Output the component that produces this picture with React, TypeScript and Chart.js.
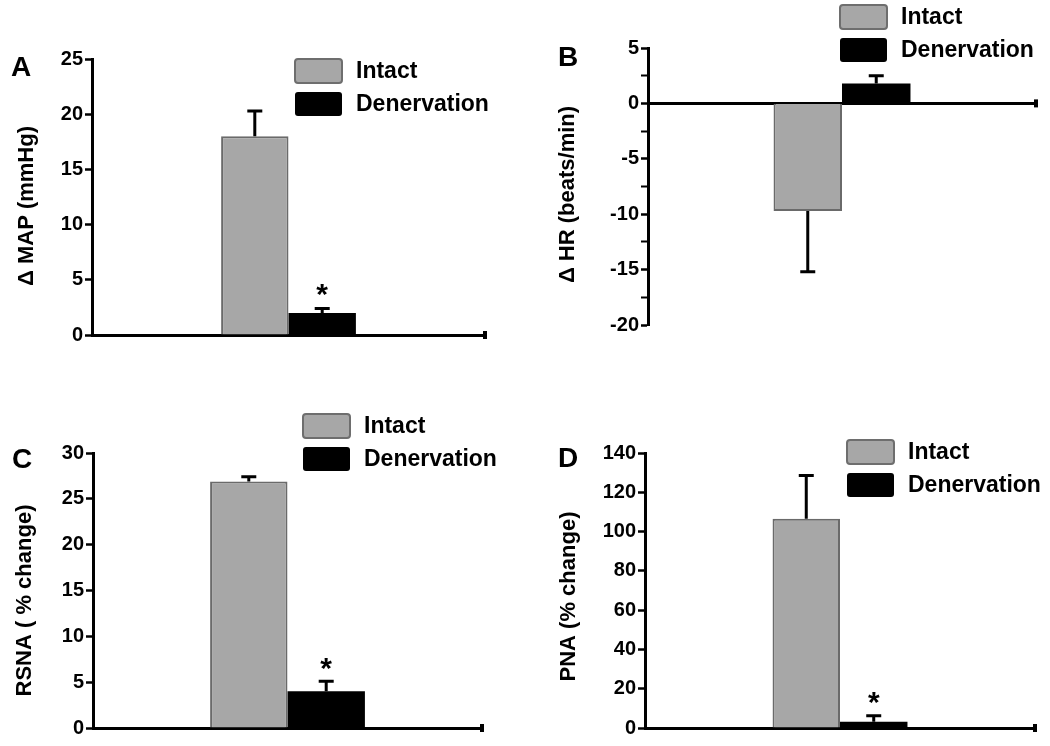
import React, { useEffect, useRef } from "react";
import { Chart, registerables } from "chart.js";

Chart.register(...registerables);

// ---------- data ----------
const categories = [""];
const seriesNames = ["Intact", "Denervation"];
const seriesColors = ["#a7a7a7", "#000000"];
const seriesBorders = ["#6a6a6a", "#000000"];

// Panel A: Δ MAP (mmHg)
const mapMean = [18.0, 2.0];
const mapErr = [2.3, 0.4];
const mapStar = [false, true];

// Panel B: Δ HR (beats/min)
const hrMean = [-9.7, 1.8];
const hrErr = [5.5, 0.7];
const hrStar = [false, false];

// Panel C: RSNA (% change)
const rsnaMean = [26.9, 4.0];
const rsnaErr = [0.5, 1.1];
const rsnaStar = [false, true];

// Panel D: PNA (% change)
const pnaMean = [106.5, 3.2];
const pnaErr = [22.0, 3.0];
const pnaStar = [false, true];

// ---------- panel definitions ----------
const FONT = "'Liberation Sans', Arial, Helvetica, sans-serif";
const CW = 525;
const CH = 373;

const panels = [
  {
    letter: "A",
    yTitle: "\u0394 MAP (mmHg)",
    means: mapMean, errs: mapErr, stars: mapStar,
    yMin: 0, yMax: 25, yStep: 5, labelEvery: 5,
    layout: { x: 0, y: 0, left: 92, right: 485, top: 59, bottom: 335, group: 0.343,
      titleX: 27, titleDy: 9, letterX: 11, letterBase: 76, legX: 295, legY: 59, starGap: 22 },
  },
  {
    letter: "B",
    yTitle: "\u0394 HR (beats/min)",
    means: hrMean, errs: hrErr, stars: hrStar,
    yMin: -20, yMax: 5, yStep: 2.5, labelEvery: 5,
    layout: { x: 525, y: 0, left: 123, right: 511, top: 48, bottom: 325, group: 0.353,
      titleX: 43, titleDy: 8, letterX: 33, letterBase: 66, legX: 315, legY: 5, starGap: 22 },
  },
  {
    letter: "C",
    yTitle: "RSNA ( % change)",
    means: rsnaMean, errs: rsnaErr, stars: rsnaStar,
    yMin: 0, yMax: 30, yStep: 5, labelEvery: 5,
    layout: { x: 0, y: 373, left: 93, right: 482, top: 80, bottom: 355, group: 0.398,
      titleX: 25, titleDy: 10, letterX: 12, letterBase: 95, legX: 303, legY: 41, starGap: 20 },
  },
  {
    letter: "D",
    yTitle: "PNA (% change)",
    means: pnaMean, errs: pnaErr, stars: pnaStar,
    yMin: 0, yMax: 140, yStep: 20, labelEvery: 20,
    layout: { x: 525, y: 373, left: 120, right: 510, top: 80, bottom: 355, group: 0.346,
      titleX: 44, titleDy: 6, letterX: 33, letterBase: 94, legX: 322, legY: 67, starGap: 21 },
  },
];

type PanelDef = (typeof panels)[number];

function Panel({ p }: { p: PanelDef }) {
  const ref = useRef<HTMLCanvasElement | null>(null);

  useEffect(() => {
    const L = p.layout;
    const padLeft = 8;
    const decor = {
      id: "decor" + p.letter,
      afterDatasetsDraw(chart: any) {
        const ctx = chart.ctx;
        const yS = chart.scales.y;
        ctx.save();
        chart.data.datasets.forEach((ds: any, di: number) => {
          const meta = chart.getDatasetMeta(di);
          meta.data.forEach((bar: any, j: number) => {
            const v = ds.data[j] as number;
            const e = p.errs[di];
            const dir = v >= 0 ? 1 : -1;
            const { x, y } = bar.getProps(["x", "y"], true);
            const yEnd = yS.getPixelForValue(v + dir * e);
            ctx.strokeStyle = "#000";
            ctx.lineWidth = 3;
            ctx.beginPath();
            ctx.moveTo(x, y);
            ctx.lineTo(x, yEnd);
            ctx.moveTo(x - 7.5, yEnd);
            ctx.lineTo(x + 7.5, yEnd);
            ctx.stroke();
            if (p.stars[di]) {
              ctx.fillStyle = "#000";
              ctx.font = `bold 30px ${FONT}`;
              ctx.textAlign = "center";
              ctx.textBaseline = "alphabetic";
              ctx.fillText("*", x, yEnd - L.starGap + 17);
            }
          });
        });
        ctx.restore();
      },
      afterDraw(chart: any) {
        const ctx = chart.ctx;
        const area = chart.chartArea;
        const yS = chart.scales.y;
        ctx.save();
        // right-end marker of the x axis
        const y0 = yS.getPixelForValue(0);
        ctx.fillStyle = "#000";
        ctx.fillRect(area.right - 2, y0 - 4, 4, 8);
        // panel letter
        ctx.font = `bold 28px ${FONT}`;
        ctx.textAlign = "left";
        ctx.textBaseline = "alphabetic";
        ctx.fillText(p.letter, L.letterX, L.letterBase);
        // y title
        ctx.save();
        ctx.translate(L.titleX, (area.top + area.bottom) / 2 + L.titleDy);
        ctx.rotate(-Math.PI / 2);
        ctx.font = `bold 22px ${FONT}`;
        ctx.textAlign = "center";
        ctx.textBaseline = "middle";
        ctx.fillText(p.yTitle, 0, 0);
        ctx.restore();
        // legend
        chart.data.datasets.forEach((ds: any, i: number) => {
          const bx = L.legX;
          const by = L.legY + i * 33;
          ctx.fillStyle = ds.backgroundColor;
          ctx.beginPath();
          (ctx as any).roundRect ? (ctx as any).roundRect(bx, by, 47, 24, 3) : ctx.rect(bx, by, 47, 24);
          ctx.fill();
          if (i === 0) {
            ctx.strokeStyle = "#6e6e6e";
            ctx.lineWidth = 2;
            ctx.stroke();
          }
          ctx.fillStyle = "#000";
          ctx.font = `bold 23px ${FONT}`;
          ctx.textAlign = "left";
          ctx.textBaseline = "middle";
          ctx.fillText(ds.label, bx + 61, by + 13);
        });
        ctx.restore();
      },
    };

    const chart = new Chart(ref.current as HTMLCanvasElement, {
      type: "bar",
      data: {
        labels: categories,
        datasets: seriesNames.map((name, i) => ({
          label: name,
          data: [p.means[i]],
          backgroundColor: seriesColors[i],
          borderColor: seriesBorders[i],
          borderWidth: i === 0 ? 2 : 0,
          categoryPercentage: L.group,
          barPercentage: 1,
        })),
      },
      options: {
        responsive: false,
        animation: false,
        events: [],
        layout: {
          padding: { left: padLeft, right: CW - L.right, top: L.top, bottom: CH - L.bottom },
        },
        plugins: {
          legend: { display: false },
          tooltip: { enabled: false },
          title: { display: false },
        },
        scales: {
          x: {
            type: "category",
            position: { y: 0 } as any,
            grid: { display: false },
            ticks: { display: false },
            border: { display: true, color: "#000", width: 3 },
          },
          y: {
            type: "linear",
            position: "left",
            min: p.yMin,
            max: p.yMax,
            afterFit: (s: any) => {
              s.width = L.left - padLeft;
            },
            ticks: {
              stepSize: p.yStep,
              autoSkip: false,
              color: "#000",
              padding: 2,
              font: { family: FONT, size: 20, weight: "bold" },
              callback: (v: any) => {
                const n = Number(v);
                return Math.abs(n / p.labelEvery - Math.round(n / p.labelEvery)) < 1e-9 ? String(n) : "";
              },
            },
            grid: {
              display: true,
              drawOnChartArea: false,
              drawTicks: true,
              tickLength: 7,
              tickColor: "#000",
              tickWidth: (c: any) =>
                c.tick && Math.abs(c.tick.value / p.labelEvery - Math.round(c.tick.value / p.labelEvery)) > 1e-9 ? 2 : 2.5,
            },
            border: { display: true, color: "#000", width: 3 },
          },
        },
      },
      plugins: [decor],
    } as any);

    return () => chart.destroy();
  }, [p]);

  return (
    <canvas
      ref={ref}
      width={CW}
      height={CH}
      style={{ position: "absolute", left: p.layout.x, top: p.layout.y, width: CW, height: CH }}
    />
  );
}

export default function App() {
  return (
    <div
      style={{
        position: "absolute",
        left: 0,
        top: 0,
        width: 1050,
        height: 746,
        background: "#ffffff",
        overflow: "hidden",
      }}
    >
      {panels.map((p) => (
        <Panel key={p.letter} p={p} />
      ))}
    </div>
  );
}
